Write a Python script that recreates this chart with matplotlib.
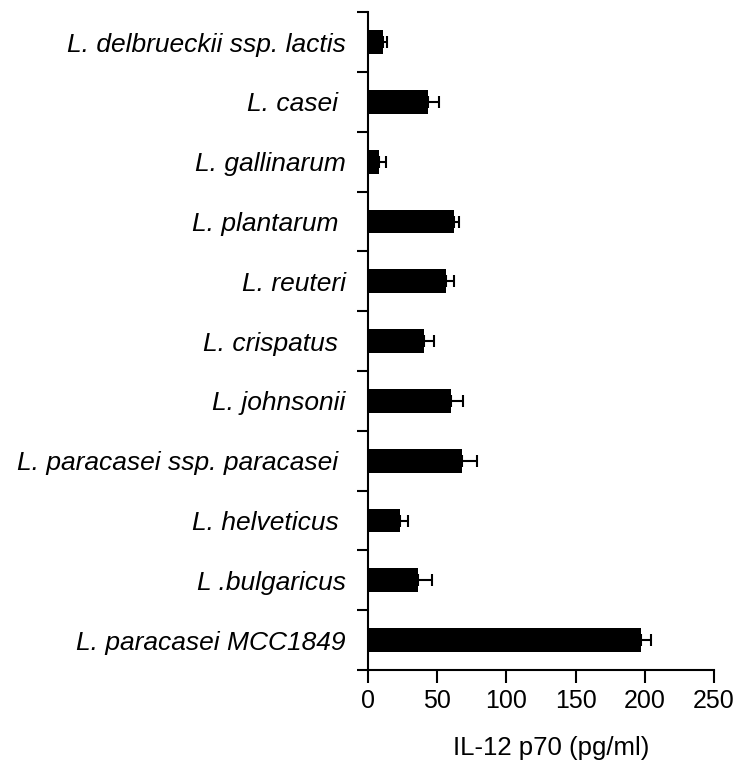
import matplotlib
matplotlib.use("Agg")
import matplotlib.pyplot as plt
import numpy as np

categories = ["L. delbrueckii ssp. lactis", "L. casei ", "L. gallinarum", "L. plantarum ",
              "L. reuteri", "L. crispatus ", "L. johnsonii", "L. paracasei ssp. paracasei ",
              "L. helveticus ", "L .bulgaricus", "L. paracasei MCC1849"]
values = [10.7, 43, 8, 62.3, 56, 40.3, 59.7, 67.9, 23.4, 36.4, 197]
errors = [3.3, 8, 5.3, 3.7, 6.3, 7.7, 8.6, 10.8, 5.3, 10.1, 7.3]
xticks = [0, 50, 100, 150, 200, 250]

plt.rcParams['font.family'] = ['Liberation Sans', 'DejaVu Sans']

fig = plt.figure(figsize=(7.34, 7.64), dpi=100)
ax = fig.add_axes([0.5014, 0.123, 0.4714, 0.861])

n = len(categories)
ypos = np.arange(n)
ax.barh(ypos, values, height=0.4, color='black', zorder=2)
ax.errorbar(values, ypos, xerr=[np.zeros(n), errors], fmt='none', ecolor='black',
            elinewidth=1.5, capsize=4.5, capthick=1.5, zorder=1)

ax.set_ylim(n - 0.5, -0.5)
ax.set_xlim(0, 250)
ax.set_yticks(ypos)
ax.set_yticklabels(categories, fontstyle='italic', fontsize=19)
ax.tick_params(axis='y', which='major', length=0, pad=16)
ax.set_yticks(np.arange(n + 1) - 0.5, minor=True)
ax.tick_params(axis='y', which='minor', length=8, width=1.5, direction='out')
ax.set_xticks(xticks)
ax.set_xticklabels([str(t) for t in xticks], fontsize=18)
ax.tick_params(axis='x', length=9, width=1.5, direction='out', pad=5)
ax.set_xlabel("IL-12 p70 (pg/ml)", fontsize=18.5)
ax.xaxis.set_label_coords(0.53, -0.101)

for s in ['top', 'right']:
    ax.spines[s].set_visible(False)
for s in ['left', 'bottom']:
    ax.spines[s].set_linewidth(1.5)

fig.savefig("out.png", dpi=100)
